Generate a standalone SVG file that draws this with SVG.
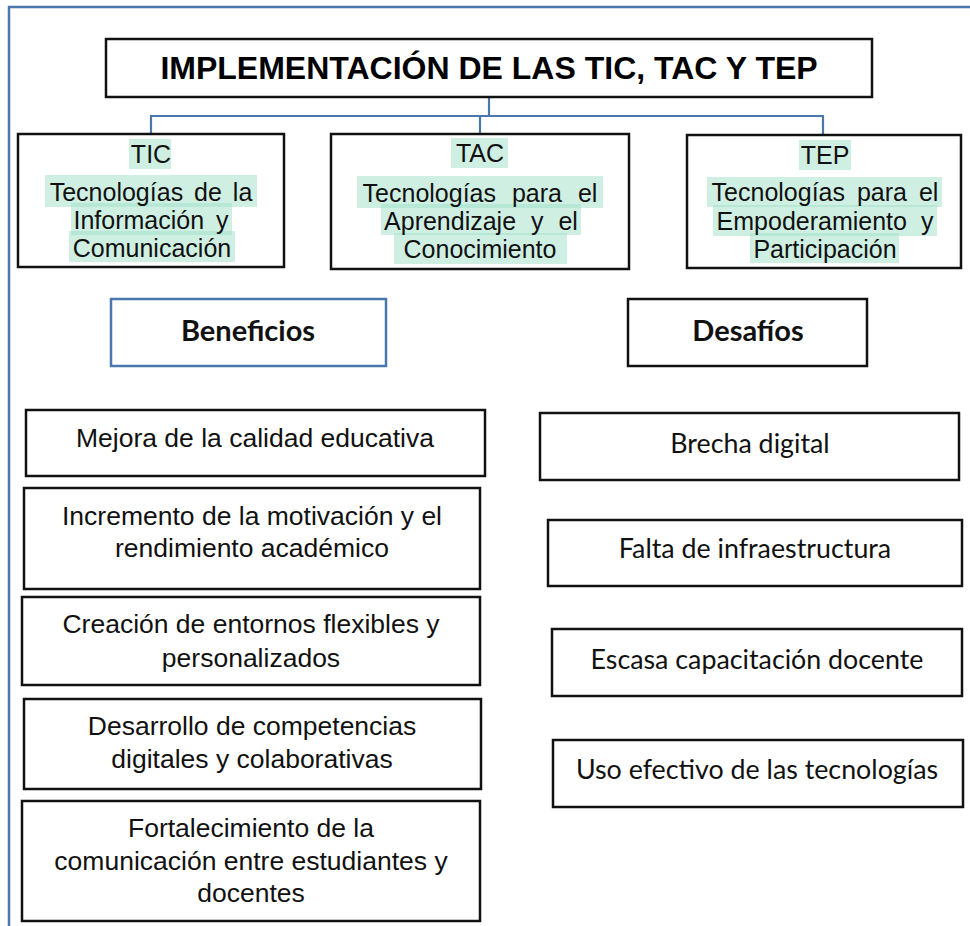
<svg xmlns="http://www.w3.org/2000/svg" width="970" height="926" viewBox="0 0 970 926">
<style>
.box{fill:#fff;stroke:#111;stroke-width:2.5}
.bbox{fill:#fff;stroke:#4a78ad;stroke-width:2.5}
.frame{fill:none;stroke:#4a78ad;stroke-width:2.5}
.conn{fill:none;stroke:#4a78ad;stroke-width:2.2}
.ar{font-family:"Liberation Sans",Arial,sans-serif;font-size:26.5px;fill:#111;text-anchor:middle}
.ar2{font-family:"Liberation Sans",Arial,sans-serif;font-size:25px;fill:#111;text-anchor:middle}
.cal{font-family:Lato,"Open Sans",sans-serif;font-size:26.8px;fill:#111;text-anchor:middle}
.calb{font-family:Lato,"Open Sans",sans-serif;font-size:29px;font-weight:bold;fill:#111;text-anchor:middle}
.title{font-family:"Liberation Sans",Arial,sans-serif;font-size:32px;font-weight:bold;fill:#000;text-anchor:middle}
.hl{fill:#a0e0c8;fill-opacity:0.5}
</style>
<rect width="970" height="926" fill="#fff"/>
<path class="frame" d="M9,926 V7 H970"/>
<g id="connectors">
<path class="conn" d="M489,97 V116"/>
<path class="conn" d="M151,134 V116 H823 V134"/>
<path class="conn" d="M480,116 V134"/>
</g>
<g id="title">
<rect class="box" x="106" y="39" width="766" height="58"/>
<text class="title" x="489" y="79">IMPLEMENTACIÓN DE LAS TIC, TAC Y TEP</text>
</g>
<g id="tic">
<rect class="box" x="18" y="134" width="266" height="133"/>
<rect class="hl" x="129" y="139" width="42" height="30"/>
<rect class="hl" x="45" y="175" width="212" height="32"/>
<rect class="hl" x="71" y="203" width="161" height="32"/>
<rect class="hl" x="69" y="231" width="166" height="31"/>
<text class="ar2" x="151" y="163">TIC</text>
<text class="ar2" x="151" y="201" word-spacing="4">Tecnologías de la</text>
<text class="ar2" x="151" y="229" word-spacing="5">Información y</text>
<text class="ar2" x="152" y="257">Comunicación</text>
</g>
<g id="tac">
<rect class="box" x="331" y="134" width="298" height="135"/>
<rect class="hl" x="451" y="138" width="57" height="30"/>
<rect class="hl" x="357" y="176" width="246" height="32"/>
<rect class="hl" x="381" y="204" width="200" height="31"/>
<rect class="hl" x="394" y="233" width="173" height="31"/>
<text class="ar2" x="480" y="162">TAC</text>
<text class="ar2" x="480" y="202" word-spacing="9">Tecnologías para el</text>
<text class="ar2" x="481" y="230" word-spacing="8">Aprendizaje y el</text>
<text class="ar2" x="480" y="258">Conocimiento</text>
</g>
<g id="tep">
<rect class="box" x="687" y="135" width="274" height="133"/>
<rect class="hl" x="799" y="140" width="52" height="30"/>
<rect class="hl" x="707" y="177" width="235" height="30"/>
<rect class="hl" x="713" y="205" width="224" height="31"/>
<rect class="hl" x="750" y="233" width="149" height="30"/>
<text class="ar2" x="825" y="164">TEP</text>
<text class="ar2" x="825" y="201" word-spacing="5">Tecnologías para el</text>
<text class="ar2" x="825" y="230" word-spacing="7">Empoderamiento y</text>
<text class="ar2" x="825" y="258">Participación</text>
</g>
<g id="beneficios">
<rect class="bbox" x="111" y="299" width="275" height="67"/>
<text class="calb" x="248" y="341">Beneficios</text>
</g>
<g id="desafios">
<rect class="box" x="628" y="299" width="239" height="67"/>
<text class="calb" x="748" y="341">Desafíos</text>
</g>
<g id="b1">
<rect class="box" x="26" y="410" width="459" height="66"/>
<text class="ar" x="255" y="447">Mejora de la calidad educativa</text>
</g>
<g id="b2">
<rect class="box" x="24" y="488" width="456" height="101"/>
<text class="ar" x="252" y="525">Incremento de la motivación y el</text>
<text class="ar" x="252" y="557">rendimiento académico</text>
</g>
<g id="b3">
<rect class="box" x="22" y="597" width="458" height="88"/>
<text class="ar" x="251" y="633">Creación de entornos flexibles y</text>
<text class="ar" x="251" y="667">personalizados</text>
</g>
<g id="b4">
<rect class="box" x="24" y="699" width="457" height="90"/>
<text class="ar" x="252" y="735">Desarrollo de competencias</text>
<text class="ar" x="252" y="768">digitales y colaborativas</text>
</g>
<g id="b5">
<rect class="box" x="22" y="801" width="458" height="120"/>
<text class="ar" x="251" y="837">Fortalecimiento de la</text>
<text class="ar" x="251" y="870">comunicación entre estudiantes y</text>
<text class="ar" x="251" y="902">docentes</text>
</g>
<g id="d1">
<rect class="box" x="540" y="413" width="419" height="67"/>
<text class="cal" x="750" y="453">Brecha digital</text>
</g>
<g id="d2">
<rect class="box" x="548" y="520" width="414" height="66"/>
<text class="cal" x="755" y="558">Falta de infraestructura</text>
</g>
<g id="d3">
<rect class="box" x="552" y="629" width="410" height="67"/>
<text class="cal" x="757" y="669">Escasa capacitación docente</text>
</g>
<g id="d4">
<rect class="box" x="553" y="740" width="410" height="67"/>
<text class="cal" x="757" y="779">Uso efectivo de las tecnologías</text>
</g>
</svg>
